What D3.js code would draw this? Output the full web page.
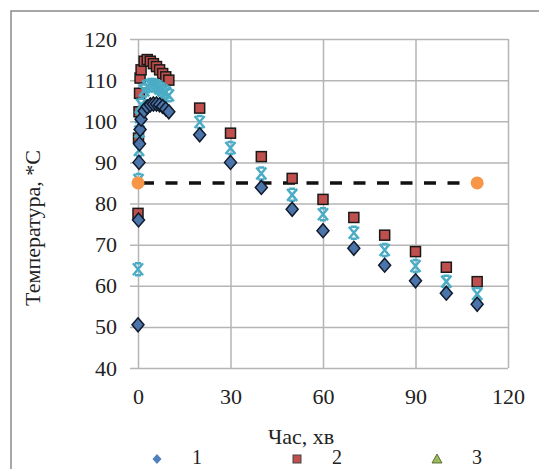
<!DOCTYPE html>
<html>
<head>
<meta charset="utf-8">
<script src="https://cdn.jsdelivr.net/npm/d3@7"></script>
<style>
  body { margin: 0; background: #fff; }
  svg text { font-family: "Liberation Serif", "Times New Roman", serif; fill: #222; }
</style>
</head>
<body>
<svg id="chart" width="539" height="469"></svg>
<script>
// time points, minutes
const times = [0, 0.17, 0.33, 0.5, 0.67, 1, 2, 3, 4, 5, 6, 7, 8, 9, 10,
               20, 30, 40, 50, 60, 70, 80, 90, 100, 110];
// series 1 - diamonds
const series1 = [50.5, 76, 90, 94.5, 98, 100.5, 102.5, 103.5, 104, 104.2, 104.2, 104, 103.6, 103, 102.3,
                 96.7, 90, 83.9, 78.6, 73.4, 69.1, 65, 61.2, 58.2, 55.5];
// series 2 - squares
const series2 = [77.6, 95.9, 102.3, 106.8, 110.5, 112.5, 114.6, 115, 114.6, 114, 113.3, 112.5, 111.6, 110.8, 110,
                 103.2, 97.1, 91.4, 86.1, 81, 76.6, 72.3, 68.3, 64.5, 61];
// asterisk series
const series4 = [64, 85.7, 93, 97.5, 101, 104, 107.5, 108.5, 108.8, 108.8, 108.5, 108, 107.5, 107, 106.3,
                 99.8, 93.5, 87.3, 82.1, 77.4, 72.9, 68.7, 64.8, 61, 58];
// reference level (dashed line with end points)
const refTimes = [0, 110];
const refValues = [85, 85];

const xTicks = [0, 30, 60, 90, 120];
const yTicks = [40, 50, 60, 70, 80, 90, 100, 110, 120];
const legendNames = ["1", "2", "3"];
const xTitle = "Час, хв";
const yTitle = "Температура, *С";

const svg = d3.select("#chart");

// outer frame
svg.append("rect")
    .attr("x", 11).attr("y", 11)
    .attr("width", 540).attr("height", 470)
    .attr("fill", "#fff")
    .attr("stroke", "#8a8a8a")
    .attr("stroke-width", 1.5);

const x = d3.scaleLinear().domain([0, 120]).range([138, 508]);
const y = d3.scaleLinear().domain([40, 120]).range([368, 39]);

// y grid + labels
const yAxis = svg.append("g")
    .attr("transform", "translate(130,0)")
    .call(d3.axisLeft(y).tickValues(yTicks).tickSize(-(508 - 130)).tickPadding(13));
yAxis.select(".domain").remove();
yAxis.selectAll("line").attr("stroke", "#b5b5b5").attr("stroke-width", 1.5);
yAxis.selectAll("text").attr("font-size", 22).attr("fill", "#222");

// x grid + labels
const xAxis = svg.append("g")
    .attr("transform", "translate(0,368)")
    .call(d3.axisBottom(x).tickValues(xTicks).tickSize(-(368 - 39)).tickPadding(20));
xAxis.select(".domain").remove();
xAxis.selectAll("line").attr("stroke", "#b5b5b5").attr("stroke-width", 1.5);
xAxis.selectAll("text").attr("font-size", 22).attr("fill", "#222");

// axis titles
svg.append("text")
    .attr("x", 301).attr("y", 444)
    .attr("text-anchor", "middle")
    .attr("font-size", 22)
    .text(xTitle);

svg.append("text")
    .attr("transform", "translate(40,228) rotate(-90)")
    .attr("text-anchor", "middle")
    .attr("font-size", 22)
    .text(yTitle);

// dashed reference line
const refPts = refTimes.map((t, i) => [t, refValues[i]]);
svg.append("path")
    .datum(refPts)
    .attr("fill", "none")
    .attr("stroke", "#111")
    .attr("stroke-width", 3.5)
    .attr("stroke-dasharray", "12,11.5")
    .attr("stroke-dashoffset", -4)
    .attr("d", d3.line().x(d => x(d[0])).y(d => y(d[1])));

const toPts = vals => times.map((t, i) => ({ t: t, v: vals[i] }));

// squares
svg.append("g").selectAll("rect")
    .data(toPts(series2))
    .enter().append("rect")
    .attr("x", d => x(d.t) - 5)
    .attr("y", d => y(d.v) - 5)
    .attr("width", 10).attr("height", 10)
    .attr("fill", "#c0504d")
    .attr("stroke", "#1a1a1a")
    .attr("stroke-width", 1.5);

// asterisks
const star = "M-5,-6 L5,6 M5,-6 L-5,6 M-3,-6 L3,-6 M-3,6 L3,6";
svg.append("g").selectAll("path")
    .data(toPts(series4))
    .enter().append("path")
    .attr("transform", d => `translate(${x(d.t)},${y(d.v)})`)
    .attr("d", star)
    .attr("fill", "none")
    .attr("stroke", "#4bacc6")
    .attr("stroke-width", 2.5);

// diamonds
svg.append("g").selectAll("path")
    .data(toPts(series1))
    .enter().append("path")
    .attr("transform", d => `translate(${x(d.t)},${y(d.v)})`)
    .attr("d", "M0,-7 L6,0 L0,7 L-6,0 Z")
    .attr("fill", "#4a74aa")
    .attr("stroke", "#111a2a")
    .attr("stroke-width", 1.5);

// orange end points
svg.append("g").selectAll("circle")
    .data(refPts)
    .enter().append("circle")
    .attr("cx", d => x(d[0]))
    .attr("cy", d => y(d[1]))
    .attr("r", 6.5)
    .attr("fill", "#f79646");

// legend
const legendX = [157, 297, 437];
const lg = svg.append("g");
lg.append("path")
    .attr("transform", `translate(${legendX[0]},459)`)
    .attr("d", "M0,-5 L4.5,0 L0,5 L-4.5,0 Z")
    .attr("fill", "#4f81bd");
lg.append("rect")
    .attr("x", legendX[1] - 4).attr("y", 455)
    .attr("width", 8).attr("height", 8)
    .attr("fill", "#c0504d")
    .attr("stroke", "#444").attr("stroke-width", 1);
lg.append("path")
    .attr("transform", `translate(${legendX[2]},459)`)
    .attr("d", "M0,-5 L5,4 L-5,4 Z")
    .attr("fill", "#9bbb59")
    .attr("stroke", "#445522").attr("stroke-width", 0.8);
lg.selectAll("text")
    .data(legendNames)
    .enter().append("text")
    .attr("x", (d, i) => legendX[i] + 35)
    .attr("y", 464)
    .attr("font-size", 20)
    .text(d => d);
</script>
</body>
</html>
